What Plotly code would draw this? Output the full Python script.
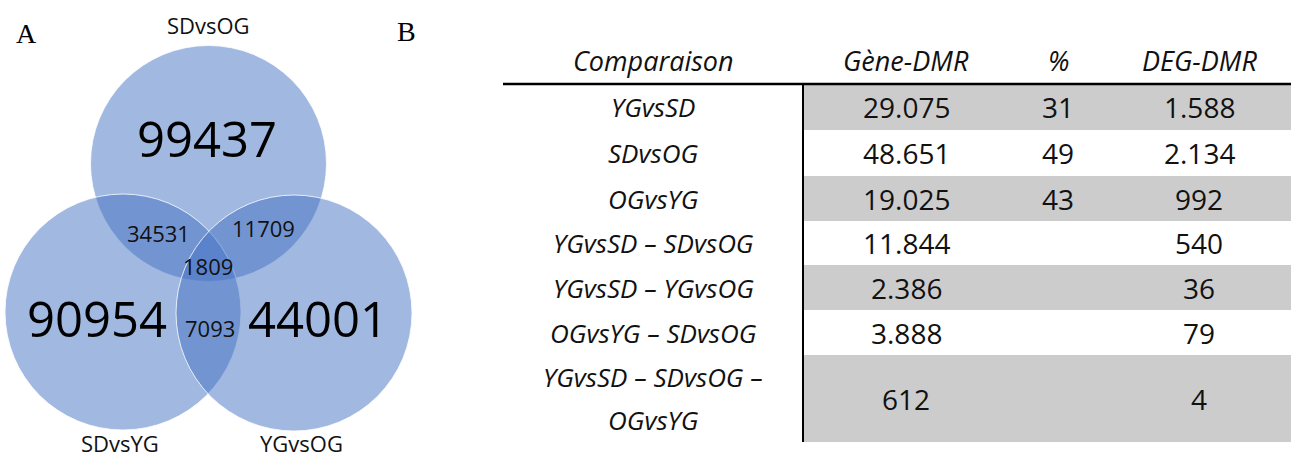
import plotly.graph_objects as go

# ---------------- data ----------------
venn_sets = ["SDvsOG", "SDvsYG", "YGvsOG"]
venn_only = [99437, 90954, 44001]          # unique to each set
venn_pairs = [34531, 11709, 7093]          # SDvsOG∩SDvsYG, SDvsOG∩YGvsOG, SDvsYG∩YGvsOG
venn_all = 1809                            # all three

headers = ["Comparaison", "Gène-DMR", "%", "DEG-DMR"]
comparisons = ["YGvsSD", "SDvsOG", "OGvsYG", "YGvsSD – SDvsOG", "YGvsSD – YGvsOG",
               "OGvsYG – SDvsOG", "YGvsSD – SDvsOG –\nOGvsYG"]
gene_dmr = [29075, 48651, 19025, 11844, 2386, 3888, 612]
pct = [31, 49, 43, None, None, None, None]
deg_dmr = [1588, 2134, 992, 540, 36, 79, 4]

# ---------------- style / layout ----------------
W, H = 1291, 457
FONT = "Open Sans"
BLUE = "rgba(68,114,196,0.5)"
circles = [(208.5, 163.5), (123, 312), (294, 313)]   # SDvsOG, SDvsYG, YGvsOG
R = 118
set_label_pos = [(208, 25), (120, 443), (301, 443)]
only_pos = [(207, 138), (97, 318), (318, 318)]
pair_pos = [(158, 233), (263, 228), (210, 328)]
all_pos = (208, 266)

col_x = [653, 906, 1058, 1199]
row_bounds = [84, 130, 176, 221, 265, 310, 355, 442]
header_y = 60
grey_x0, grey_x1 = 804, W

def fmt(v):
    return "" if v is None else f"{v:,}".replace(",", ".")

fig = go.Figure()
shapes = []
annotations = []

def text(x, y, s, size, family=FONT, color="#111"):
    annotations.append(dict(x=x, y=y, xref="x", yref="y", text=s, showarrow=False,
                            font=dict(family=family, size=size, color=color),
                            xanchor="center", yanchor="middle"))

# Venn circles
for (cx, cy) in circles:
    shapes.append(dict(type="circle", xref="x", yref="y", x0=cx - R, x1=cx + R,
                       y0=cy - R, y1=cy + R, fillcolor=BLUE,
                       line=dict(color="rgba(255,255,255,0.8)", width=1), layer="above"))

for name, (x, y) in zip(venn_sets, set_label_pos):
    text(x, y, name, 22)
for v, (x, y) in zip(venn_only, only_pos):
    text(x, y, str(v), 49, color="#000")
for v, (x, y) in zip(venn_pairs, pair_pos):
    text(x, y, str(v), 22)
text(all_pos[0], all_pos[1], str(venn_all), 22)

text(26, 33, "A", 28, family="Liberation Serif", color="#000")
text(406, 31, "B", 28, family="Liberation Serif", color="#000")

# Table: grey bands
for i in range(len(comparisons)):
    if i % 2 == 0:
        shapes.append(dict(type="rect", xref="x", yref="y", x0=grey_x0, x1=grey_x1,
                           y0=row_bounds[i], y1=row_bounds[i + 1],
                           fillcolor="#CCCCCC", line=dict(width=0), layer="below"))
# header rule and vertical rule
shapes.append(dict(type="line", xref="x", yref="y", x0=503, x1=W, y0=row_bounds[0], y1=row_bounds[0],
                   line=dict(color="#000", width=2.5)))
shapes.append(dict(type="line", xref="x", yref="y", x0=grey_x0 - 1, x1=grey_x0 - 1,
                   y0=row_bounds[0], y1=row_bounds[-1], line=dict(color="#000", width=2)))

for h, x in zip(headers, col_x):
    text(x, header_y, f"<i>{h}</i>", 27)

for i, comp in enumerate(comparisons):
    y0, y1 = row_bounds[i], row_bounds[i + 1]
    yc = (y0 + y1) / 2
    lines = comp.split("\n")
    if len(lines) == 1:
        text(col_x[0], yc, f"<i>{lines[0]}</i>", 26)
    else:
        step = (y1 - y0) / len(lines)
        for j, ln in enumerate(lines):
            text(col_x[0], y0 + step * (j + 0.5), f"<i>{ln}</i>", 26)
    text(col_x[1], yc, fmt(gene_dmr[i]), 28)
    text(col_x[2], yc, fmt(pct[i]), 28)
    text(col_x[3], yc, fmt(deg_dmr[i]), 28)

fig.update_layout(
    width=W, height=H, margin=dict(l=0, r=0, t=0, b=0),
    paper_bgcolor="white", plot_bgcolor="white",
    xaxis=dict(range=[0, W], visible=False, fixedrange=True),
    yaxis=dict(range=[H, 0], visible=False, fixedrange=True),
    shapes=shapes, annotations=annotations, showlegend=False,
)
fig.write_html("out.html", config={"displayModeBar": False},
               post_script="document.body.style.margin='0';document.body.style.overflow='hidden';")
